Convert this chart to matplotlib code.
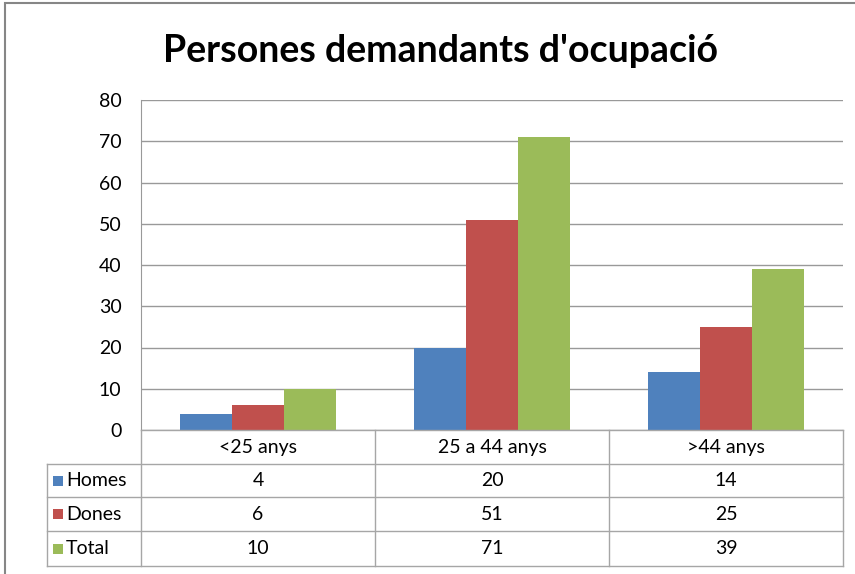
import matplotlib
matplotlib.use("Agg")
import matplotlib.pyplot as plt
from matplotlib import font_manager
from matplotlib.patches import Rectangle

categories = ["<25 anys", "25 a 44 anys", ">44 anys"]
series_names = ["Homes", "Dones", "Total"]
homes = [4, 20, 14]
dones = [6, 51, 25]
total = [10, 71, 39]
series_values = [homes, dones, total]
colors = ["#4F81BD", "#C0504D", "#9BBB59"]
yticks = [0, 10, 20, 30, 40, 50, 60, 70, 80]
title = "Persones demandants d'ocupació"

avail = {f.name for f in font_manager.fontManager.ttflist}
fam = "Lato" if "Lato" in avail else "DejaVu Sans"
plt.rcParams['font.family'] = [fam, 'DejaVu Sans']

W, H = 855, 574
fig = plt.figure(figsize=(W / 100, H / 100), dpi=100)

def fx(x):
    return x / W

def fy(y):
    return 1 - y / H

# outer border
fig.patches.append(Rectangle((fx(5), fy(600)), fx(900), fy(3) - fy(600),
                             transform=fig.transFigure, fill=False,
                             edgecolor="#868686", lw=1.5))

L, R, T, B = 141, 843, 100, 430
ax = fig.add_axes([fx(L), fy(B), fx(R - L), fy(T) - fy(B)])
n = len(categories)
bw = 1 / (3 + 1.5)
for i, (name, vals, c) in enumerate(zip(series_names, series_values, colors)):
    xs = [k + (i - 1) * bw for k in range(n)]
    ax.bar(xs, vals, width=bw, color=c, zorder=3)
ax.set_xlim(-0.5, n - 0.5)
ax.set_ylim(0, 80)
ax.set_yticks(yticks)
ax.set_yticklabels([str(v) for v in yticks], fontsize=14)
ax.yaxis.grid(True, color="#999999", lw=1, zorder=0)
ax.set_xticks([])
for s in ["top", "right", "bottom"]:
    ax.spines[s].set_visible(False)
ax.spines["left"].set_color("#999999")
ax.tick_params(axis="y", length=0, pad=14)

# title
fig.text(fx(440), fy(51), title, ha="center", va="center", fontsize=27,
         fontweight="bold")

# data table
lc = "#a6a6a6"
rows_y = [430, 464, 497, 531, 566]
col_x = [141, 375, 609, 843]
TL = 47

def hline(x0, x1, y):
    fig.add_artist(plt.Line2D([fx(x0), fx(x1)], [fy(y), fy(y)], color=lc, lw=1))

def vline(x, y0, y1):
    fig.add_artist(plt.Line2D([fx(x), fx(x)], [fy(y0), fy(y1)], color=lc, lw=1))

hline(L, R, rows_y[0])
for y in rows_y[1:]:
    hline(TL, R, y)
for x in col_x:
    vline(x, rows_y[0], rows_y[-1])
vline(TL, rows_y[1], rows_y[-1])

for j, cat in enumerate(categories):
    cx = (col_x[j] + col_x[j + 1]) / 2
    fig.text(fx(cx), fy((rows_y[0] + rows_y[1]) / 2), cat, ha="center",
             va="center", fontsize=14)

for i, (name, vals, c) in enumerate(zip(series_names, series_values, colors)):
    cy = (rows_y[i + 1] + rows_y[i + 2]) / 2
    fig.patches.append(Rectangle((fx(53), fy(cy + 5)), fx(10), fy(cy - 5) - fy(cy + 5),
                                 transform=fig.transFigure, facecolor=c,
                                 edgecolor="none"))
    fig.text(fx(66), fy(cy), name, ha="left", va="center", fontsize=14)
    for j, v in enumerate(vals):
        cx = (col_x[j] + col_x[j + 1]) / 2
        fig.text(fx(cx), fy(cy), str(v), ha="center", va="center", fontsize=14)

fig.savefig("out.png", dpi=100)
